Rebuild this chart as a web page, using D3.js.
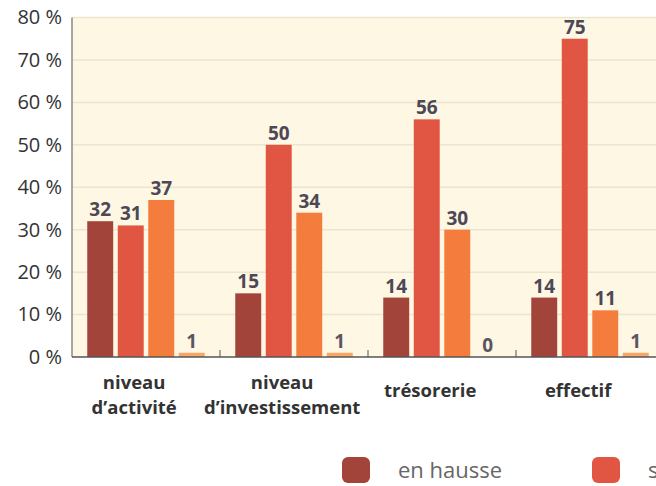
<!DOCTYPE html>
<html>
<head>
<meta charset="utf-8">
<script src="https://cdn.jsdelivr.net/npm/d3@7"></script>
<style>
  body { margin: 0; background: #fff; }
  svg { display: block; }
</style>
</head>
<body>
<div class="chart"></div>
<script>
// data
const categories = [["niveau", "d\u2019activité"], ["niveau", "d\u2019investissement"], ["trésorerie"], ["effectif"]];
const series = ["en hausse", "stable", "en baisse", "ne se prononce pas"];
const colors = ["#a2443a", "#e15543", "#f47d3d", "#f7a666"];
const values = [
  [32, 31, 37, 1],
  [15, 50, 34, 1],
  [14, 56, 30, 0],
  [14, 75, 11, 1]
];
const yTicks = [0, 10, 20, 30, 40, 50, 60, 70, 80];

const width = 656, height = 486;
const plotLeft = 72, plotTop = 17.5, plotBottom = 357;
const bandW = 148;

const svg = d3.select('div.chart')
  .append('svg')
  .attr('width', width)
  .attr('height', height);

const y = d3.scaleLinear().domain([0, 80]).range([plotBottom, plotTop]);

const x0 = d3.scaleBand()
  .domain(d3.range(categories.length))
  .range([plotLeft, plotLeft + bandW * categories.length]);

const x1 = d3.scaleBand()
  .domain(d3.range(series.length))
  .range([0, bandW])
  .paddingInner(0.15)
  .paddingOuter(0.5);

// plot background
svg.append('rect')
  .attr('x', plotLeft).attr('y', plotTop)
  .attr('width', width - plotLeft).attr('height', plotBottom - plotTop)
  .attr('fill', '#fdf7e4');

// grid lines
svg.append('g')
  .selectAll('line')
  .data(yTicks.slice(1))
  .enter().append('line')
    .attr('x1', plotLeft).attr('x2', width)
    .attr('y1', d => y(d)).attr('y2', d => y(d))
    .attr('stroke', '#ebe5cf')
    .attr('stroke-width', 1.5);

// y axis labels
const yAxis = svg.append('g')
  .attr('transform', `translate(${plotLeft},0)`)
  .call(d3.axisLeft(y).tickValues(yTicks).tickSize(0).tickPadding(10).tickFormat(d => d + ' %'));
yAxis.select('.domain').remove();
yAxis.selectAll('text')
  .style('font-family', '"Open Sans", sans-serif')
  .style('font-size', '20px')
  .attr('fill', '#333');

svg.append('line')
  .attr('x1', plotLeft).attr('x2', plotLeft)
  .attr('y1', plotTop).attr('y2', plotBottom)
  .attr('stroke', '#8a8a8a').attr('stroke-width', 1.5);

// bars
const groups = svg.append('g')
  .selectAll('g')
  .data(values)
  .enter().append('g')
    .attr('transform', (d, i) => `translate(${x0(i)},0)`);

groups.selectAll('rect')
  .data(d => d)
  .enter().append('rect')
    .attr('x', (d, j) => x1(j))
    .attr('y', d => y(d))
    .attr('width', x1.bandwidth())
    .attr('height', d => Math.max(y(0) - y(d), 0))
    .attr('fill', (d, j) => colors[j]);

groups.selectAll('text')
  .data(d => d)
  .enter().append('text')
    .attr('x', (d, j) => x1(j) + x1.bandwidth() / 2)
    .attr('y', d => y(d) - 5)
    .attr('text-anchor', 'middle')
    .style('font-family', '"Open Sans", sans-serif')
    .style('font-size', '19px')
    .style('font-weight', 'bold')
    .attr('fill', (d, j) => j === 3 ? '#5a5560' : '#4d4855')
    .text(d => d);

// baseline and separators
svg.append('line')
  .attr('x1', plotLeft).attr('x2', width)
  .attr('y1', plotBottom).attr('y2', plotBottom)
  .attr('stroke', '#555').attr('stroke-width', 1.5);

svg.append('g')
  .selectAll('line')
  .data(d3.range(1, categories.length))
  .enter().append('line')
    .attr('x1', d => x0(d)).attr('x2', d => x0(d))
    .attr('y1', plotBottom).attr('y2', plotBottom - 7)
    .attr('stroke', '#555').attr('stroke-width', 1);

// category labels
const catLabels = svg.append('g')
  .selectAll('text')
  .data(categories)
  .enter().append('text')
    .attr('transform', (d, i) => `translate(${x0(i) + bandW * 0.42},${d.length > 1 ? 389 : 397})`)
    .attr('text-anchor', 'middle')
    .style('font-family', '"Open Sans", sans-serif')
    .style('font-size', '18.5px')
    .style('font-weight', 'bold')
    .attr('fill', '#333');

catLabels.selectAll('tspan')
  .data(d => d)
  .enter().append('tspan')
    .attr('x', 0)
    .attr('dy', (d, k) => k === 0 ? 0 : 25)
    .text(d => d);

// legend
const legend = svg.append('g')
  .selectAll('g')
  .data(series)
  .enter().append('g')
    .attr('transform', (d, i) => `translate(${342 + i * 250},457)`);

legend.append('rect')
  .attr('width', 28).attr('height', 26)
  .attr('rx', 6)
  .attr('fill', (d, i) => colors[i]);

legend.append('text')
  .attr('x', 56).attr('y', 21)
  .style('font-family', '"Open Sans", sans-serif')
  .style('font-size', '22px')
  .attr('fill', '#666')
  .text(d => d);
</script>
</body>
</html>
